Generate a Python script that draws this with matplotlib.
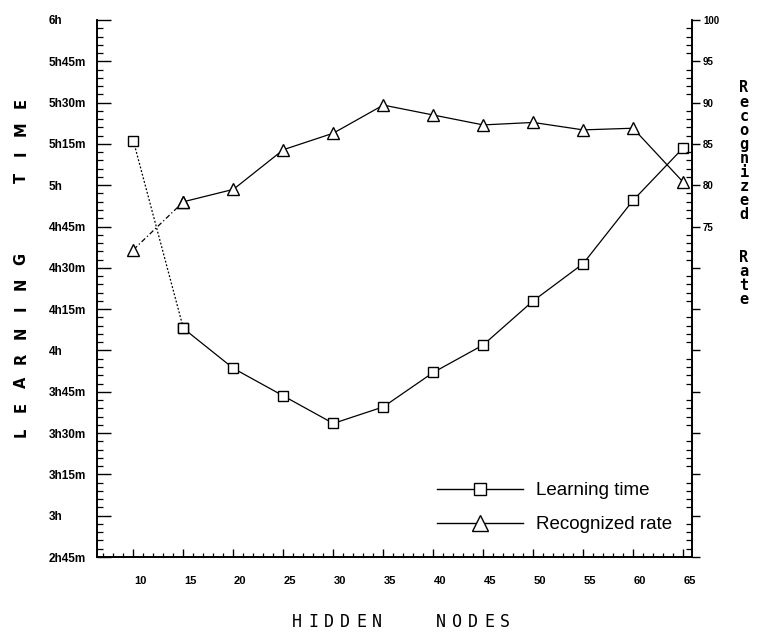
import matplotlib
matplotlib.use("Agg")
import matplotlib.pyplot as plt
from matplotlib import font_manager
from matplotlib.lines import Line2D
from matplotlib.transforms import ScaledTranslation
from matplotlib.ticker import MultipleLocator, FixedLocator

# ---------------- data ----------------
nodes = [10, 15, 20, 25, 30, 35, 40, 45, 50, 55, 60, 65]
learning_minutes = [316, 248, 233.5, 223.5, 213.5, 219.5, 232, 242, 258, 271.5, 294.5, 313.5]
recognized_rate = [72.2, 78.0, 79.5, 84.3, 86.3, 89.7, 88.5, 87.3, 87.6, 86.7, 86.9, 80.4]

left_tick_values = [165, 180, 195, 210, 225, 240, 255, 270, 285, 300, 315, 330, 345, 360]
left_tick_labels = ["2h45m", "3h", "3h15m", "3h30m", "3h45m", "4h", "4h15m", "4h30m",
                    "4h45m", "5h", "5h15m", "5h30m", "5h45m", "6h"]
right_tick_values = [35, 40, 45, 50, 55, 60, 65, 70, 75, 80, 85, 90, 95, 100]
right_tick_labels = ["", "", "", "", "", "", "", "", "75", "80", "85", "90", "95", "100"]
x_tick_values = [10, 15, 20, 25, 30, 35, 40, 45, 50, 55, 60, 65]
x_tick_labels = ["10", "15", "20", "25", "30", "35", "40", "45", "50", "55", "60", "65"]

legend_labels = ["Learning time", "Recognized rate"]
xlabel_words = ["HIDDEN", "NODES"]
left_words = ["LEARNING", "TIME"]
right_words = ["Recognized", "Rate"]

# ---------------- fonts ----------------
avail = {f.name for f in font_manager.fontManager.ttflist}
narrow = "Liberation Sans Narrow" if "Liberation Sans Narrow" in avail else "Liberation Sans"

# ---------------- figure ----------------
fig = plt.figure(figsize=(7.58, 6.35), dpi=100)
L, R, T, B = 97, 692, 20, 557
W, H = 758, 635
ax = fig.add_axes([L / W, 1 - B / H, (R - L) / W, (B - T) / H])
ax2 = ax.twinx()

ax.set_xlim(6.35, 65.9)
ax.set_ylim(165, 360)
ax2.set_ylim(35, 100)

for a in (ax, ax2):
    a.spines["top"].set_visible(False)
    for s in a.spines.values():
        s.set_linewidth(1.2)
        s.set_color("black")

# learning time
ax.plot(nodes[:2], learning_minutes[:2], color="black", lw=0.9, ls=(0, (1.5, 1.5)),
        marker="s", ms=7, mfc="white", mec="black", mew=1.0, zorder=3)
ax.plot(nodes[1:], learning_minutes[1:], color="black", lw=0.9, ls="-",
        marker="s", ms=7, mfc="white", mec="black", mew=1.0, zorder=3)
# recognized rate
ax2.plot(nodes[:2], recognized_rate[:2], color="black", lw=0.9, ls=(0, (4, 2, 1, 2)),
         marker="^", ms=9, mfc="white", mec="black", mew=1.0, zorder=3)
ax2.plot(nodes[1:], recognized_rate[1:], color="black", lw=0.9, ls="-",
         marker="^", ms=9, mfc="white", mec="black", mew=1.0, zorder=3)

# ---------------- ticks ----------------
tick_font = dict(family=narrow, weight="bold")

ax.yaxis.set_major_locator(FixedLocator(left_tick_values))
ax.yaxis.set_minor_locator(MultipleLocator(3))
ax.set_yticklabels(left_tick_labels, ha="left", fontsize=8.5, **tick_font)
ax.tick_params(axis="y", which="major", direction="in", length=10, width=1.0, pad=35)
ax.tick_params(axis="y", which="minor", direction="in", length=4, width=0.9)
ax.tick_params(axis="y", right=False, which="both")

ax.xaxis.set_major_locator(FixedLocator(x_tick_values))
ax.xaxis.set_minor_locator(MultipleLocator(1))
ax.set_xticklabels(x_tick_labels, fontsize=8, **tick_font)
ax.tick_params(axis="x", which="major", direction="in", length=6, width=1.0, pad=14)
ax.tick_params(axis="x", which="minor", direction="in", length=3, width=0.9)
off = ScaledTranslation(5 / 72, 0, fig.dpi_scale_trans)
for lab in ax.get_xticklabels():
    lab.set_transform(lab.get_transform() + off)

ax2.yaxis.set_major_locator(FixedLocator(right_tick_values))
ax2.yaxis.set_minor_locator(MultipleLocator(1))
ax2.set_yticklabels(right_tick_labels, fontsize=7, **tick_font)
ax2.tick_params(axis="y", which="major", direction="out", length=6, width=1.0, pad=2)
ax2.tick_params(axis="y", which="minor", direction="in", length=4, width=0.9)

# ---------------- legend ----------------
handles = [
    Line2D([], [], color="black", lw=1.0, marker="s", ms=8, mfc="white", mec="black"),
    Line2D([], [], color="black", lw=1.0, marker="^", ms=11, mfc="white", mec="black"),
]
ax2.legend(handles, legend_labels, frameon=False, loc="upper left",
           bbox_to_anchor=((437 - L) / (R - L), (B - 482) / (B - T)),
           borderpad=0, borderaxespad=0, handlelength=4.6, handletextpad=0.7,
           labelspacing=0.9, prop=dict(family=narrow, size=13.5))

# ---------------- axis titles (letter spaced) ----------------
# x label
x0, pitch, y = 297, 16, 622
i = 0
for wi, word in enumerate(xlabel_words):
    for ch in word:
        fig.text((x0 + i * pitch) / W, 1 - y / H, ch, ha="center", va="center",
                 fontsize=12, family="DejaVu Sans Mono")
        i += 1
    i += 3

# left label (rotated, reading bottom to top)
yb, pitch = 432, 24.7
k = 0
for wi, word in enumerate(left_words):
    for ch in word:
        fig.text(21 / W, 1 - (yb - k * pitch) / H, ch, ha="center", va="center",
                 rotation=90, fontsize=10.5, weight="bold", family="DejaVu Sans")
        k += 1
    k += 2.3

# right label (stacked upright)
yt, pitch = 88, 14.1
k = 0
for wi, word in enumerate(right_words):
    for ch in word:
        fig.text(744 / W, 1 - (yt + k * pitch) / H, ch, ha="center", va="center",
                 fontsize=11, weight="bold", family="DejaVu Sans Mono")
        k += 1
    k += 2

fig.savefig("out.png", dpi=100)
